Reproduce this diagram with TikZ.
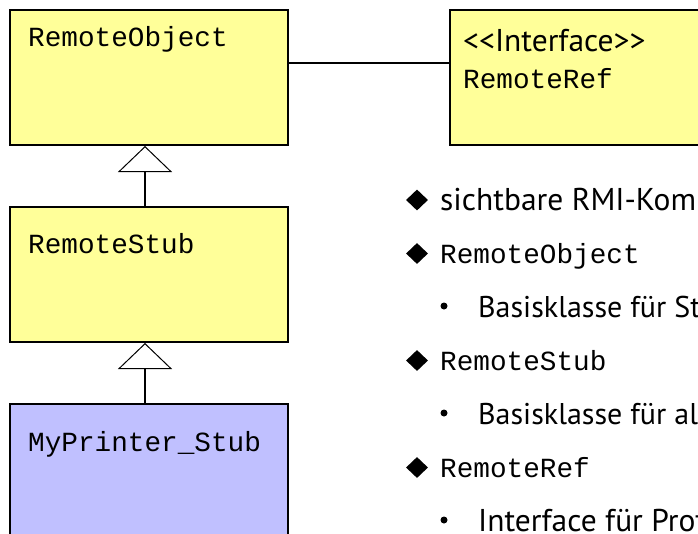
\documentclass[tikz,border=0pt]{standalone}
\usepackage{fontspec}
\setmainfont{PT Sans}
\newfontfamily\monof{Liberation Mono}
\usetikzlibrary{arrows.meta,shapes.geometric}
\definecolor{classyellow}{RGB}{255,255,153}
\definecolor{classblue}{RGB}{192,192,255}
\tikzset{
  classbox/.style={draw=black, line width=2pt, fill=classyellow, minimum width=278pt, minimum height=135pt, inner sep=0pt},
  stubbox/.style={classbox, fill=classblue},
  monolabel/.style={anchor=base west, inner sep=0pt, font=\monof\fontsize{27.7pt}{30pt}\selectfont},
  bullettext/.style={anchor=base west, inner sep=0pt, font=\fontsize{31.5pt}{36pt}\selectfont},
  subtext/.style={anchor=base west, inner sep=0pt, font=\fontsize{30pt}{36pt}\selectfont},
  diamondbullet/.style={diamond, fill=black, inner sep=0pt, minimum width=22pt, minimum height=21pt},
  dotbullet/.style={circle, fill=black, inner sep=0pt, minimum size=7pt},
  gen/.style={line width=2pt, -{Triangle[open, width=54pt, length=26pt, line width=1pt, fill=white]}},
  assoc/.style={line width=2pt}
}
\begin{document}
\begin{tikzpicture}[x=1pt, y=-1pt]
\useasboundingbox (0,0) rectangle (698,533);
\clip (0,0) rectangle (698,533);
\fill[white] (0,0) rectangle (698,533);
% class boxes
\node[classbox] (ro) at (149,77.5) {};
\node[classbox] (rs) at (149,274.5) {};
\node[stubbox] (ms) at (149,471.5) {};
\node[classbox, minimum width=280pt] (rr) at (590,77.5) {};
% box texts
\node[monolabel] (rotext) at (28,46) {RemoteObject};
\node[monolabel] (rstext) at (28,253) {RemoteStub};
\node[monolabel] (mstext) at (28,451) {MyPrinter\_Stub};
\node[bullettext] (rrster) at (463,51) {\fontsize{31.5pt}{36pt}\selectfont{<}{<}Interface{>}{>}};
\node[monolabel] (rrtext) at (463,88) {RemoteRef};
% connectors
\draw[gen] ([xshift=-4pt]rs.north) -- ([xshift=-4pt]ro.south);
\draw[gen] ([xshift=-4pt]ms.north) -- ([xshift=-4pt]rs.south);
\draw[assoc] ([yshift=14.5pt]ro.east) -- ([yshift=14.5pt]rr.west);
% bullet list
\node[diamondbullet] (d1) at (417,200) {};
\node[bullettext] (t1) at (440,210) {sichtbare RMI-Kom};
\node[diamondbullet] (d2) at (417,253.5) {};
\node[monolabel] (t2) at (440,263.5) {RemoteObject};
\node[dotbullet] (b3) at (444,306) {};
\node[subtext] (t3) at (478,317) {Basisklasse für St};
\node[diamondbullet] (d4) at (417,360.5) {};
\node[monolabel] (t4) at (440,370.5) {RemoteStub};
\node[dotbullet] (b5) at (444,413) {};
\node[subtext] (t5) at (478,424) {Basisklasse für al};
\node[diamondbullet] (d6) at (417,467.5) {};
\node[monolabel] (t6) at (440,477.5) {RemoteRef};
\node[dotbullet] (b7) at (444,520) {};
\node[bullettext] (t7) at (478,531) {Interface für Prot};
\end{tikzpicture}
\end{document}
